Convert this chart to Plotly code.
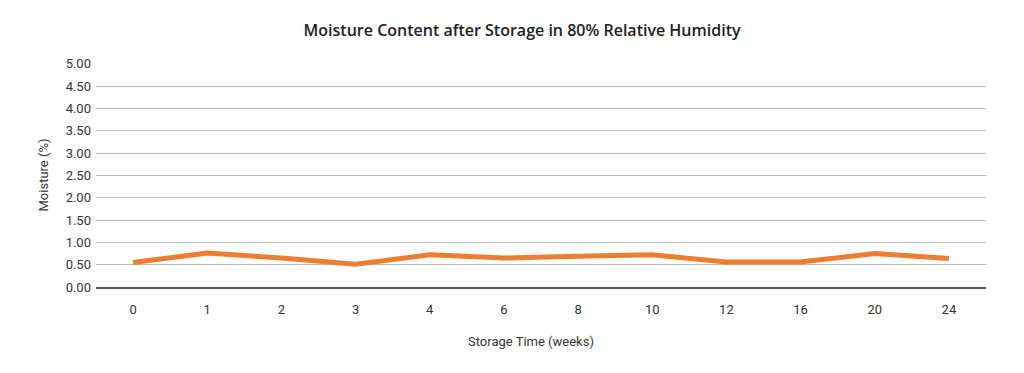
import plotly.graph_objects as go

weeks = ["0", "1", "2", "3", "4", "6", "8", "10", "12", "16", "20", "24"]
moisture = [0.55, 0.76, 0.65, 0.51, 0.72, 0.65, 0.69, 0.72, 0.56, 0.56, 0.75, 0.64]
y_ticks = [0, 0.5, 1, 1.5, 2, 2.5, 3, 3.5, 4, 4.5, 5]

tick_font = dict(family="Roboto, sans-serif", size=13, color="#333333")

fig = go.Figure(go.Scatter(
    x=weeks, y=moisture, mode="lines",
    line=dict(color="#ED7D31", width=5),
))

fig.update_layout(
    width=1008, height=357,
    margin=dict(l=88, r=30, t=55, b=78),
    paper_bgcolor="white", plot_bgcolor="white",
    showlegend=False,
    title=dict(text="Moisture Content after Storage in 80% Relative Humidity",
               x=0.51, xanchor="center", y=0.938, yanchor="middle",
               font=dict(family="Open Sans, sans-serif", size=16, color="#222222", weight=600)),
    xaxis=dict(type="category", range=[-0.5, 11.5], showgrid=False,
               showline=True, linecolor="#555555", linewidth=2,
               ticks="", tickfont=tick_font, ticklabelstandoff=9),
    yaxis=dict(range=[0, 5.02], tickvals=y_ticks, tickformat=".2f",
               showgrid=True, gridcolor="#bbbbbb", gridwidth=1,
               zeroline=False, ticks="", tickfont=tick_font, ticklabelstandoff=4,
               title=dict(text="Moisture (%)", font=tick_font, standoff=14)),
    annotations=[dict(text="Storage Time (weeks)", xref="paper", yref="paper",
                      x=(531 - 96) / (986 - 96), y=-0.245, xanchor="center", yanchor="middle",
                      showarrow=False, font=tick_font)],
)

fig.write_html("out.html")
